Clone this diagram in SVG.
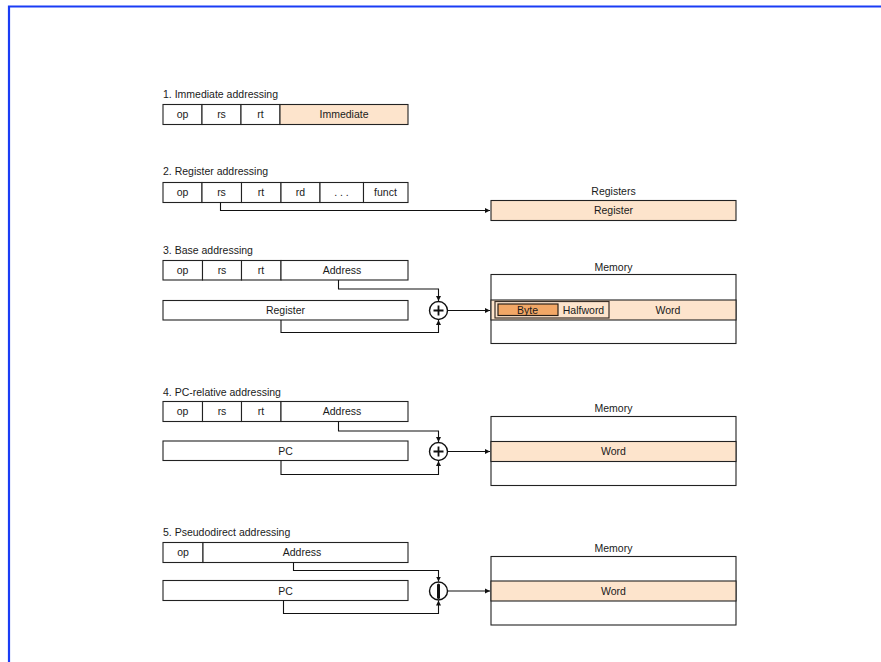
<svg xmlns="http://www.w3.org/2000/svg" width="881" height="662" viewBox="0 0 881 662">
<defs>
<style>
text{font-family:"Liberation Sans",Arial,sans-serif;font-size:10.5px;fill:#1a1a1a}
.c{text-anchor:middle}
.box{fill:#fff;stroke:#222;stroke-width:1.1}
.hl{fill:#fde4cc;stroke:#222;stroke-width:1.1}
.ln{fill:none;stroke:#111;stroke-width:1.1}
.circ{fill:#fff;stroke:#111;stroke-width:1.4}
.plus{stroke:#111;stroke-width:1.8}
</style>
<marker id="ah" markerUnits="userSpaceOnUse" markerWidth="6" markerHeight="6" refX="5" refY="3" orient="auto">
<path d="M0,0.5 L5,3 L0,5.5 Z" fill="#111"/>
</marker>
</defs>
<rect x="0" y="0" width="881" height="662" fill="#fff"/>
<path d="M9,662 V6.5 H881" fill="none" stroke="#1a3cf5" stroke-width="2.2"/>

<g id="mode1">
<text x="163" y="97.5">1. Immediate addressing</text>
<rect class="box" x="163" y="104.5" width="39" height="20"/>
<rect class="box" x="202" y="104.5" width="39" height="20"/>
<rect class="box" x="241" y="104.5" width="39" height="20"/>
<rect class="hl" x="280" y="104.5" width="128" height="20"/>
<text class="c" x="182.5" y="118">op</text>
<text class="c" x="221.5" y="118">rs</text>
<text class="c" x="260.5" y="118">rt</text>
<text class="c" x="344" y="118">Immediate</text>
</g>

<g id="mode2">
<text x="163" y="175">2. Register addressing</text>
<rect class="box" x="163" y="182.5" width="39" height="20"/>
<rect class="box" x="202" y="182.5" width="39.5" height="20"/>
<rect class="box" x="241.5" y="182.5" width="39.5" height="20"/>
<rect class="box" x="281" y="182.5" width="39" height="20"/>
<rect class="box" x="320" y="182.5" width="43.5" height="20"/>
<rect class="box" x="363.5" y="182.5" width="44.5" height="20"/>
<text class="c" x="182.5" y="196">op</text>
<text class="c" x="221.5" y="196">rs</text>
<text class="c" x="261" y="196">rt</text>
<text class="c" x="300.5" y="196">rd</text>
<text class="c" x="341.5" y="196">. . .</text>
<text class="c" x="385.5" y="196">funct</text>
</g>

<g id="registers">
<text class="c" x="613.5" y="195">Registers</text>
<rect class="hl" x="491" y="200.5" width="245" height="20"/>
<text class="c" x="613.5" y="214">Register</text>
</g>

<g id="mode3">
<text x="163" y="253.5">3. Base addressing</text>
<rect class="box" x="163" y="260.5" width="39.5" height="19.5"/>
<rect class="box" x="202.5" y="260.5" width="39" height="19.5"/>
<rect class="box" x="241.5" y="260.5" width="39.5" height="19.5"/>
<rect class="box" x="281" y="260.5" width="127" height="19.5"/>
<text class="c" x="182.5" y="274">op</text>
<text class="c" x="222" y="274">rs</text>
<text class="c" x="261" y="274">rt</text>
<text class="c" x="342" y="274">Address</text>
<rect class="box" x="163" y="300.5" width="245" height="19.5"/>
<text class="c" x="285.5" y="314">Register</text>
</g>

<g id="add3">
<circle class="circ" cx="438.5" cy="310.5" r="9"/>
<path class="plus" d="M433.5,310.5 H443.5 M438.5,305.5 V315.5"/>
</g>

<g id="memory3">
<text class="c" x="613.5" y="270.5">Memory</text>
<rect class="box" x="491" y="274.5" width="245" height="69"/>
<rect class="hl" x="491" y="300" width="245" height="20"/>
<rect x="495" y="301.5" width="114" height="16.5" fill="#fde4cc" stroke="#3a3028" stroke-width="1.2"/>
<rect x="498" y="304" width="60" height="11.5" fill="#f2a766" stroke="#2a2018" stroke-width="1.2"/>
<text class="c" x="527.5" y="313.5">Byte</text>
<text class="c" x="583.5" y="313.5">Halfword</text>
<text class="c" x="668" y="313.5">Word</text>
</g>

<g id="mode4">
<text x="163" y="395.5">4. PC-relative addressing</text>
<rect class="box" x="163" y="401.5" width="39.5" height="20"/>
<rect class="box" x="202.5" y="401.5" width="39" height="20"/>
<rect class="box" x="241.5" y="401.5" width="39.5" height="20"/>
<rect class="box" x="281" y="401.5" width="127" height="20"/>
<text class="c" x="182.5" y="415">op</text>
<text class="c" x="222" y="415">rs</text>
<text class="c" x="261" y="415">rt</text>
<text class="c" x="342" y="415">Address</text>
<rect class="box" x="163" y="441" width="245" height="19.5"/>
<text class="c" x="285.5" y="454.5">PC</text>
</g>

<g id="add4">
<circle class="circ" cx="438.5" cy="451.5" r="9"/>
<path class="plus" d="M433.5,451.5 H443.5 M438.5,446.5 V456.5"/>
</g>

<g id="memory4">
<text class="c" x="613.5" y="411.5">Memory</text>
<rect class="box" x="491" y="416.5" width="245" height="69"/>
<rect class="hl" x="491" y="441.5" width="245" height="20"/>
<text class="c" x="613.5" y="455">Word</text>
</g>

<g id="mode5">
<text x="163" y="535.5">5. Pseudodirect addressing</text>
<rect class="box" x="163" y="542.5" width="40" height="20"/>
<rect class="box" x="203" y="542.5" width="205" height="20"/>
<text class="c" x="183" y="556">op</text>
<text class="c" x="302" y="556">Address</text>
<rect class="box" x="163" y="580.5" width="245" height="20"/>
<text class="c" x="285.5" y="594.5">PC</text>
</g>

<g id="concat5">
<circle class="circ" cx="438.5" cy="591" r="9"/>
<path d="M438.5,585 V597.5" stroke="#111" stroke-width="3" stroke-linecap="round"/>
</g>

<g id="memory5">
<text class="c" x="613.5" y="551.5">Memory</text>
<rect class="box" x="491" y="556.5" width="245" height="68.5"/>
<rect class="hl" x="491" y="581" width="245" height="20"/>
<text class="c" x="613.5" y="594.5">Word</text>
</g>

<g id="connectors">
<path class="ln" d="M220.5,202.5 V210.5 H490" marker-end="url(#ah)"/>
<path class="ln" d="M338.5,280 V289 H438.5 V301" marker-end="url(#ah)"/>
<path class="ln" d="M281,320 V332.5 H438.5 V320" marker-end="url(#ah)"/>
<path class="ln" d="M447.5,310.5 H490" marker-end="url(#ah)"/>
<path class="ln" d="M338.5,421.5 V431 H438.5 V442" marker-end="url(#ah)"/>
<path class="ln" d="M281,460.5 V474.5 H438.5 V461" marker-end="url(#ah)"/>
<path class="ln" d="M447.5,451.5 H490" marker-end="url(#ah)"/>
<path class="ln" d="M293.5,562.5 V570.5 H438.5 V581.5" marker-end="url(#ah)"/>
<path class="ln" d="M283.5,600.5 V613.5 H438.5 V600.5" marker-end="url(#ah)"/>
<path class="ln" d="M447.5,591 H490" marker-end="url(#ah)"/>
</g>
</svg>
